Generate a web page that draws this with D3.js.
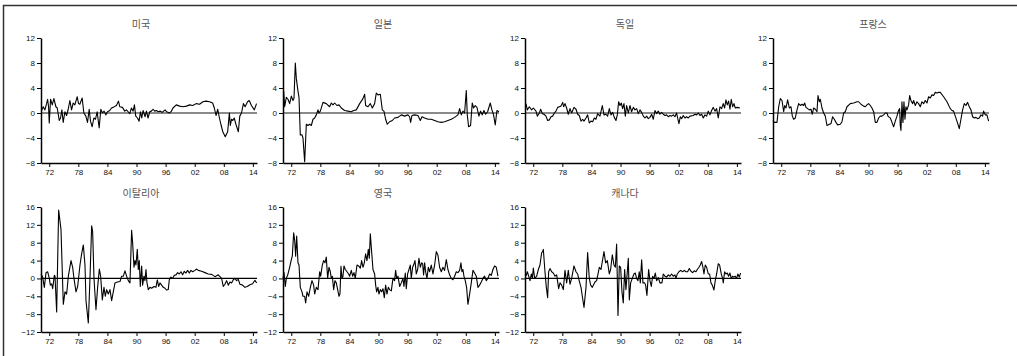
<!DOCTYPE html>
<html>
<head>
<meta charset="utf-8">
<script src="https://cdn.jsdelivr.net/npm/d3@7"></script>
<style>
  body { margin: 0; background: #fff; }
  svg text { font-family: "Liberation Sans", Arial, sans-serif; }
</style>
</head>
<body>
<script>
// Country titles, in panel order
const TITLES = ["미국", "일본", "독일", "프랑스", "이탈리아", "영국", "캐나다"];

// Each series: [year, value]
const US = [[1970.42,0.4],[1970.76,1.0],[1971.11,0.5],[1971.45,1.5],[1971.66,2.2],[1971.86,1.0],[1972.0,-1.6],[1972.27,2.2],[1972.62,1.3],[1972.96,2.3],[1973.37,1.0],[1973.65,0.8],[1974.06,-1.2],[1974.33,-0.8],[1974.61,0.5],[1974.88,-1.5],[1975.23,0.2],[1975.57,-0.4],[1975.91,0.6],[1976.26,2.0],[1976.6,0.5],[1976.94,1.6],[1977.28,1.3],[1977.77,2.6],[1978.04,1.5],[1978.31,1.4],[1978.79,2.4],[1979.14,0],[1979.55,-0.5],[1979.89,-1.5],[1980.24,0.6],[1980.51,-1.3],[1980.85,-2.2],[1981.2,-0.8],[1981.54,-1.0],[1981.88,0.2],[1982.3,-2.4],[1982.64,0.6],[1982.98,0],[1983.32,0.3],[1983.67,-0.3],[1984.01,0.2],[1984.49,0.4],[1984.83,0.8],[1985.18,0.9],[1985.86,1.2],[1986.28,1.9],[1986.55,1.0],[1987.1,0.9],[1987.58,0.3],[1987.92,0.5],[1988.27,0.2],[1988.61,-0.1],[1988.95,0.8],[1989.3,0.3],[1989.57,1.3],[1989.84,-0.5],[1990.19,-0.8],[1990.53,-1.3],[1990.81,0.2],[1991.08,-0.8],[1991.35,0.4],[1991.77,-0.6],[1992.04,0.3],[1992.38,-0.8],[1992.73,0.2],[1993.07,0.3],[1993.41,0.6],[1993.76,0.3],[1994.1,0.4],[1994.5,0.2],[1994.9,0.3],[1995.3,0.1],[1995.9,0.5],[1996.2,0.2],[1996.85,0.0],[1997.2,0.3],[1997.53,0.8],[1998.2,1.3],[1998.9,1.1],[1999.58,1.0],[2000.3,1.1],[2000.95,1.3],[2001.6,1.2],[2002.3,1.5],[2003.0,1.4],[2003.7,1.8],[2004.35,1.9],[2005.05,1.8],[2005.7,1.6],[2006.05,0.8],[2006.4,-0.4],[2006.75,0.6],[2007.1,-0.8],[2007.4,-1.8],[2007.8,-3.0],[2008.3,-3.8],[2008.8,-3.0],[2009.15,0.0],[2009.35,-2.0],[2009.6,-1.0],[2009.85,-1.2],[2010.15,-0.8],[2010.5,-1.8],[2011.0,-3.0],[2011.3,-0.5],[2011.65,0],[2012.05,1.5],[2012.4,1.0],[2012.9,1.8],[2013.25,2.0],[2013.7,1.2],[2014.3,0.5],[2014.75,1.5]];

const JAPAN = [[1970.44,3.5],[1970.64,1.0],[1970.99,2.5],[1971.33,2.2],[1971.67,1.5],[1972.02,2.7],[1972.36,2.0],[1972.57,2.4],[1972.84,8.0],[1973.05,5.5],[1973.39,3.5],[1973.6,2.5],[1973.87,-3.5],[1974.22,-3.5],[1974.42,-4.0],[1974.77,-7.8],[1975.11,-1.8],[1975.45,-2.0],[1975.8,-1.8],[1976.14,-2.0],[1976.49,-1.0],[1976.83,-0.8],[1977.17,-0.3],[1977.52,0.5],[1977.72,0.0],[1978.0,0.3],[1978.55,1.7],[1979.23,1.5],[1979.92,1.0],[1980.27,1.6],[1980.61,1.3],[1980.95,1.6],[1981.43,1.2],[1981.85,1.3],[1982.33,0.8],[1983.01,0.4],[1983.7,0.3],[1984.39,0.2],[1984.87,0.4],[1985.42,0.5],[1986.11,1.5],[1986.79,2.3],[1987.14,3.0],[1987.34,1.2],[1987.83,1.0],[1988.31,1.5],[1988.72,0.8],[1989.2,1.5],[1989.54,3.2],[1989.89,2.9],[1990.37,3.0],[1990.78,0.5],[1991.12,0.3],[1991.47,-1.0],[1991.81,-1.8],[1992.29,-1.4],[1992.84,-1.2],[1993.32,-0.8],[1994.01,-0.7],[1994.7,-0.3],[1995.39,-0.5],[1996.07,-0.3],[1996.42,-0.6],[1996.62,-1.5],[1996.9,-0.4],[1997.45,-0.3],[1998.13,-0.4],[1998.62,-1.2],[1998.96,-0.6],[1999.51,-0.8],[2000.2,-1.0],[2000.88,-1.0],[2001.57,-1.2],[2002.26,-1.4],[2002.95,-1.5],[2003.63,-1.4],[2004.32,-1.2],[2005.01,-1.0],[2005.7,-0.7],[2006.38,-0.3],[2006.73,0.7],[2007.07,-0.3],[2007.41,0.3],[2007.76,0.0],[2008.1,3.6],[2008.31,-0.3],[2008.58,-2.2],[2008.99,-2.0],[2009.33,1.6],[2009.61,0.8],[2009.95,1.2],[2010.3,0.9],[2010.71,-0.5],[2011.05,0.3],[2011.39,-0.3],[2011.74,0.4],[2012.08,-0.2],[2012.5,0.2],[2013.05,1.6],[2013.39,0.5],[2013.73,-0.3],[2014.08,-1.9],[2014.42,0.4],[2014.84,0.2]];

const GERMANY = [[1970.5,1.5],[1970.78,0.5],[1971.19,1.0],[1971.67,0.5],[1972.02,0.8],[1972.57,0.3],[1972.84,-0.5],[1973.26,0.0],[1973.53,0.6],[1973.87,-0.1],[1974.22,-0.2],[1974.63,-0.5],[1974.97,-1.2],[1975.32,-1.1],[1975.66,-0.6],[1976.0,-0.5],[1976.35,0.0],[1976.69,0.3],[1977.04,0.9],[1977.38,1.0],[1977.72,1.1],[1978.07,1.7],[1978.27,1.0],[1978.55,1.5],[1978.89,0.8],[1979.23,-0.2],[1979.58,0.7],[1979.92,0.0],[1980.4,0.9],[1980.82,0.6],[1981.16,-0.2],[1981.5,-0.4],[1981.85,-1.3],[1982.19,-1.0],[1982.47,-1.3],[1982.88,-0.8],[1983.22,-0.3],[1983.56,-1.6],[1983.91,-1.3],[1984.25,-1.4],[1984.6,-0.8],[1984.94,-1.0],[1985.28,-0.1],[1985.76,-0.5],[1986.25,1.2],[1986.59,-0.3],[1987.0,-0.2],[1987.34,-0.5],[1987.69,0.7],[1988.03,-0.3],[1988.38,0.1],[1988.72,-0.7],[1989.06,-1.2],[1989.34,-0.3],[1989.61,1.8],[1989.89,1.2],[1990.16,1.6],[1990.44,0.7],[1990.71,1.5],[1990.99,-0.5],[1991.26,1.2],[1991.61,0.0],[1991.95,1.2],[1992.29,0.2],[1992.64,0.9],[1992.98,0.5],[1993.32,0.7],[1993.67,-0.1],[1994.01,0.5],[1994.36,0.1],[1994.7,-0.5],[1995.04,-0.8],[1995.39,-0.5],[1995.73,-0.9],[1996.07,-0.7],[1996.42,-0.2],[1996.76,-1.0],[1997.1,0.4],[1997.45,-0.1],[1997.79,0.3],[1998.13,-0.2],[1998.48,0.1],[1998.82,-0.2],[1999.17,-0.4],[1999.51,-0.3],[1999.85,-0.6],[2000.2,-0.4],[2000.54,-0.5],[2000.88,-0.3],[2001.23,-0.6],[2001.57,0.0],[2001.78,-0.8],[2002.05,-1.7],[2002.33,-0.6],[2002.6,-0.9],[2002.95,-0.4],[2003.29,-0.8],[2003.63,-0.6],[2003.98,-0.8],[2004.32,-0.5],[2005.01,-0.4],[2005.35,-0.2],[2005.7,-0.3],[2006.04,0.0],[2006.38,-0.4],[2006.73,-0.2],[2007.07,-0.8],[2007.41,-0.3],[2007.76,-0.5],[2008.1,0.3],[2008.44,-0.3],[2008.79,0.4],[2009.13,0.9],[2009.48,0.3],[2009.82,0.7],[2010.16,-0.8],[2010.51,1.0],[2010.85,0.7],[2011.19,1.5],[2011.47,0.8],[2011.74,2.1],[2012.02,1.3],[2012.29,1.9],[2012.57,0.6],[2012.84,2.2],[2013.12,1.0],[2013.4,1.5],[2013.67,0.8],[2014.08,0.9],[2014.63,0.8]];

const FRANCE = [[1970.3,-1.2],[1970.57,-1.5],[1971.12,-1.5],[1971.47,1.0],[1971.81,2.3],[1972.16,2.0],[1972.5,0.2],[1972.71,1.2],[1972.98,0.8],[1973.32,2.1],[1973.67,0.8],[1974.01,1.0],[1974.29,-0.5],[1974.56,-1.0],[1974.9,-0.8],[1975.25,0.5],[1975.59,1.5],[1975.94,1.2],[1976.28,1.4],[1976.62,1.2],[1976.83,1.6],[1977.1,0.9],[1977.45,0.7],[1977.79,0.5],[1978.14,0.6],[1978.41,-0.2],[1978.68,0.8],[1979.03,0.6],[1979.37,0.2],[1979.58,2.8],[1979.85,1.8],[1980.06,2.2],[1980.4,0.8],[1980.75,0.0],[1981.09,-0.5],[1981.43,-2.0],[1981.92,-1.8],[1982.26,-1.7],[1982.6,-0.6],[1982.95,-1.0],[1983.29,-1.5],[1983.63,-1.9],[1984.18,-1.8],[1984.53,-1.4],[1984.87,0.0],[1985.21,0.2],[1985.56,1.0],[1986.24,1.5],[1986.93,1.6],[1987.62,1.8],[1987.96,1.8],[1988.44,1.4],[1988.99,1.1],[1989.34,1.0],[1989.68,1.3],[1990.02,1.5],[1990.37,1.2],[1990.71,0.8],[1991.06,0.2],[1991.4,-1.5],[1991.74,-1.5],[1992.09,-0.8],[1992.43,-0.5],[1992.77,-0.5],[1993.12,-0.3],[1993.46,0.0],[1993.81,0.0],[1994.01,-0.5],[1994.29,-0.7],[1994.49,-0.8],[1994.84,-1.5],[1995.18,-2.2],[1995.52,-1.3],[1995.87,-0.5],[1996.14,0.3],[1996.42,0.7],[1996.55,-2.0],[1996.69,-2.8],[1996.9,1.8],[1997.1,-1.5],[1997.31,1.8],[1997.52,-1.0],[1997.72,1.0],[1997.93,0.5],[1998.27,1.3],[1998.48,2.8],[1998.75,2.0],[1999.1,1.5],[1999.3,2.0],[1999.65,1.2],[1999.99,1.8],[2000.33,1.5],[2000.68,1.0],[2001.02,1.8],[2001.37,1.5],[2001.71,2.0],[2002.05,1.6],[2002.4,2.6],[2002.74,2.4],[2003.08,2.9],[2003.43,2.8],[2003.77,3.3],[2004.11,3.2],[2004.46,3.3],[2004.8,3.3],[2005.49,2.6],[2006.18,1.8],[2006.86,0.7],[2007.21,0.4],[2007.55,0.3],[2007.89,-0.5],[2008.24,-1.3],[2008.72,-2.5],[2009.06,-1.0],[2009.41,0.5],[2009.75,1.5],[2010.09,1.2],[2010.44,1.7],[2010.78,1.0],[2011.13,0.5],[2011.47,-0.6],[2011.81,-0.8],[2012.16,-0.7],[2012.5,-0.9],[2012.84,-0.8],[2013.19,-0.3],[2013.53,-0.5],[2013.74,0.3],[2014.08,-0.3],[2014.42,-0.3],[2014.77,-1.3]];

const ITALY = [[1970.3,1.0],[1970.64,0.3],[1970.99,-2.0],[1971.33,1.3],[1971.67,1.5],[1972.02,0.0],[1972.22,-1.5],[1972.5,-1.2],[1972.71,-2.3],[1973.05,0.7],[1973.19,0.5],[1973.53,-7.5],[1973.94,15.3],[1974.42,11.0],[1974.9,-5.8],[1975.25,-3.0],[1975.59,-3.5],[1975.94,0.5],[1976.49,4.0],[1976.83,2.5],[1977.1,0.0],[1977.52,-3.0],[1977.86,-1.8],[1978.34,3.0],[1978.68,5.5],[1979.03,7.5],[1979.37,3.0],[1979.58,-5.0],[1980.06,-10.0],[1980.4,0.0],[1980.75,11.8],[1980.95,10.5],[1981.23,0.0],[1981.64,-7.0],[1981.98,-2.0],[1982.33,2.1],[1982.6,0.5],[1982.95,-4.8],[1983.29,-2.0],[1983.56,-4.0],[1983.84,-2.5],[1984.18,-3.5],[1984.53,-2.5],[1984.87,-5.0],[1985.21,-3.0],[1985.56,-1.0],[1986.04,-0.8],[1986.59,-0.7],[1986.93,0.5],[1987.28,0.5],[1987.62,1.7],[1987.96,0.5],[1988.31,-0.5],[1988.65,-1.0],[1988.99,10.8],[1989.2,8.0],[1989.48,2.5],[1989.68,4.0],[1989.89,3.0],[1990.16,6.5],[1990.37,2.0],[1990.57,4.0],[1990.78,-1.8],[1991.06,2.8],[1991.26,-1.5],[1991.54,0.5],[1991.74,-0.5],[1991.95,2.0],[1992.16,-1.0],[1992.43,-2.5],[1992.77,-2.0],[1993.12,-2.2],[1993.6,-1.8],[1994.01,-2.0],[1994.29,-0.3],[1994.56,-1.8],[1994.84,-1.0],[1995.18,-1.5],[1995.52,-2.0],[1995.87,-2.2],[1996.21,-2.6],[1996.55,-2.5],[1996.76,-0.3],[1997.1,0.3],[1997.45,0.0],[1997.79,0.7],[1998.14,0.8],[1998.48,1.3],[1998.82,1.0],[1999.17,1.5],[1999.51,0.8],[1999.85,1.6],[2000.2,1.2],[2000.54,1.8],[2000.88,1.2],[2001.23,1.8],[2001.57,1.5],[2002.05,1.8],[2002.4,2.1],[2002.74,1.8],[2003.43,1.6],[2004.11,1.3],[2004.8,1.0],[2005.49,0.9],[2006.18,0.4],[2006.86,0.8],[2007.55,0.0],[2007.89,-1.8],[2008.24,-1.3],[2008.58,-0.5],[2008.93,-1.5],[2009.27,-0.8],[2009.61,-1.0],[2009.96,-0.3],[2010.3,0.0],[2010.64,-0.5],[2010.99,-0.2],[2011.33,-1.3],[2011.88,-1.5],[2012.36,-2.0],[2012.84,-1.8],[2013.39,-1.4],[2013.94,-1.2],[2014.42,-0.4],[2014.77,-1.0]];

const UK = [[1970.3,0.0],[1970.51,1.3],[1970.78,-1.8],[1970.99,0.0],[1971.33,1.0],[1971.67,2.5],[1972.02,4.2],[1972.22,5.0],[1972.5,10.2],[1972.71,8.5],[1972.91,5.0],[1973.12,9.5],[1973.39,3.5],[1973.6,3.0],[1973.87,-2.0],[1974.22,-3.0],[1974.42,-4.0],[1974.77,-4.0],[1974.97,-5.5],[1975.25,-3.0],[1975.59,-4.0],[1975.94,-2.0],[1976.28,-0.5],[1976.62,-1.5],[1976.83,-3.5],[1977.17,-2.0],[1977.52,-2.5],[1977.86,1.5],[1978.07,0.5],[1978.41,3.0],[1978.68,4.0],[1978.96,3.5],[1979.23,4.8],[1979.51,0.0],[1979.78,2.5],[1980.06,1.5],[1980.27,0.0],[1980.47,0.5],[1980.75,-2.5],[1981.02,-0.5],[1981.3,-1.0],[1981.57,-2.5],[1981.85,-4.0],[1982.05,-3.5],[1982.26,2.7],[1982.47,0.0],[1982.67,0.5],[1982.88,2.8],[1983.15,2.0],[1983.5,1.5],[1983.84,1.0],[1984.05,0.5],[1984.39,1.8],[1984.66,0.5],[1984.94,1.3],[1985.21,0.0],[1985.56,3.0],[1985.9,2.8],[1986.25,2.3],[1986.52,4.0],[1986.79,2.5],[1987.07,3.5],[1987.34,5.5],[1987.62,4.0],[1987.89,6.5],[1988.1,4.5],[1988.31,10.0],[1988.58,6.0],[1988.86,2.0],[1989.2,1.0],[1989.41,-1.5],[1989.61,-3.0],[1989.89,-2.0],[1990.09,-3.5],[1990.37,-2.5],[1990.64,-3.0],[1990.92,-2.3],[1991.19,-4.3],[1991.47,-1.5],[1991.74,-3.5],[1992.02,-2.0],[1992.29,-2.5],[1992.64,-2.8],[1992.98,0.0],[1993.32,-0.5],[1993.53,1.8],[1993.74,0.0],[1994.01,0.5],[1994.36,-1.8],[1994.7,-1.0],[1995.04,0.0],[1995.25,-1.8],[1995.52,1.2],[1995.73,-2.3],[1996.0,1.0],[1996.28,2.0],[1996.55,3.0],[1996.76,0.0],[1997.03,2.5],[1997.24,3.0],[1997.52,4.0],[1997.79,1.0],[1998.07,2.0],[1998.34,4.5],[1998.62,2.5],[1998.89,3.5],[1999.1,3.3],[1999.3,0.8],[1999.51,3.5],[1999.72,1.5],[1999.99,0.0],[2000.27,2.5],[2000.54,1.5],[2000.88,3.0],[2001.23,1.0],[2001.57,3.0],[2001.92,6.0],[2002.26,5.2],[2002.6,2.5],[2002.95,1.5],[2003.29,2.5],[2003.63,1.8],[2003.98,4.2],[2004.32,2.0],[2004.66,0.8],[2005.01,0.0],[2005.35,-0.3],[2005.7,0.5],[2006.04,1.5],[2006.38,1.3],[2006.73,1.8],[2007.0,3.5],[2007.21,1.5],[2007.41,2.0],[2007.62,0.5],[2007.89,-0.5],[2008.17,-2.0],[2008.44,-5.8],[2008.79,-3.5],[2009.13,-1.0],[2009.48,1.8],[2009.82,1.2],[2010.16,0.5],[2010.51,-2.0],[2010.85,-1.5],[2011.19,-0.8],[2011.54,0.0],[2011.88,0.5],[2012.22,-0.5],[2012.57,0.0],[2012.91,1.0],[2013.26,0.7],[2013.6,2.0],[2013.94,2.8],[2014.29,2.5],[2014.63,0.5]];

const CANADA = [[1970.51,0.5],[1970.78,1.5],[1971.06,0.5],[1971.33,-0.5],[1971.61,1.0],[1971.81,0.0],[1972.02,2.3],[1972.29,0.0],[1972.71,0.5],[1973.05,2.0],[1973.39,3.0],[1973.74,5.8],[1973.94,6.0],[1974.08,6.5],[1974.42,1.5],[1974.7,-2.0],[1974.97,-4.3],[1975.18,1.5],[1975.45,2.2],[1975.8,1.5],[1976.14,1.2],[1976.49,0.5],[1976.83,0.8],[1977.24,-2.3],[1977.52,-1.0],[1977.86,-1.5],[1978.2,-2.5],[1978.55,1.8],[1978.89,-1.0],[1979.23,1.8],[1979.58,-1.3],[1979.92,0.0],[1980.4,2.8],[1980.82,1.5],[1981.16,1.0],[1981.43,-0.3],[1981.85,-2.0],[1982.19,-4.5],[1982.47,-6.5],[1982.88,-2.0],[1983.22,5.8],[1983.56,0.0],[1983.84,-1.5],[1984.18,-2.0],[1984.73,-0.8],[1985.08,-0.5],[1985.63,2.5],[1985.97,2.0],[1986.59,6.0],[1986.93,3.5],[1987.28,4.0],[1987.69,1.0],[1987.96,2.0],[1988.31,5.3],[1988.65,3.0],[1988.93,2.5],[1989.2,7.7],[1989.48,-8.3],[1989.75,2.8],[1990.02,2.5],[1990.3,-3.0],[1990.57,-5.5],[1990.85,2.0],[1991.12,-2.5],[1991.61,4.5],[1991.81,-4.8],[1992.09,-1.0],[1992.43,0.0],[1992.77,1.0],[1993.05,1.2],[1993.32,0.0],[1993.6,-0.5],[1993.87,1.5],[1994.08,-1.0],[1994.36,4.2],[1994.63,-1.0],[1994.97,-1.0],[1995.18,-1.5],[1995.45,-3.8],[1995.8,2.0],[1996.07,-0.5],[1996.35,-1.8],[1996.62,0.5],[1996.9,0.0],[1997.17,1.2],[1997.45,-0.5],[1997.79,0.2],[1998.13,-1.0],[1998.55,-1.0],[1998.82,1.0],[1999.17,0.5],[1999.51,0.3],[1999.85,0.8],[2000.2,0.5],[2000.54,1.0],[2000.88,0.5],[2001.23,0.8],[2001.43,0.0],[2001.71,1.0],[2002.05,1.5],[2002.4,1.8],[2002.81,1.5],[2003.15,1.8],[2003.5,1.5],[2003.84,1.5],[2004.18,2.2],[2004.53,1.6],[2004.87,1.3],[2005.21,1.7],[2005.56,1.5],[2005.83,2.0],[2006.18,2.5],[2006.45,3.0],[2006.73,3.8],[2007.0,2.5],[2007.21,1.0],[2007.48,3.0],[2007.76,2.5],[2008.1,1.0],[2008.38,1.0],[2008.65,-1.0],[2008.93,-1.5],[2009.27,-2.6],[2009.54,-0.5],[2009.82,1.0],[2010.16,3.3],[2010.44,3.0],[2010.78,1.0],[2011.06,0.0],[2011.19,-1.0],[2011.47,1.5],[2011.74,1.0],[2012.02,1.2],[2012.29,0.5],[2012.57,1.2],[2012.84,0.0],[2013.12,0.5],[2013.4,0.3],[2013.67,0.5],[2013.94,0.0],[2014.22,1.0],[2014.49,0.3],[2014.77,1.2]];

const SERIES = [US, JAPAN, GERMANY, FRANCE, ITALY, UK, CANADA];

const X_DOMAIN = [1970.3, 2014.85];
const X_TICK_YEARS = [1972, 1978, 1984, 1990, 1996, 2002, 2008, 2014];
const X_TICK_LABELS = ["72", "78", "84", "90", "96", "02", "08", "14"];
const Y_TICKS_TOP = [-8, -4, 0, 4, 8, 12];
const Y_TICKS_BOTTOM = [-12, -8, -4, 0, 4, 8, 12, 16];

// Layout
const WIDTH = 1017;
const HEIGHT = 356;
const PLOT_WIDTH = 216;
const TOP_ROW = { top: 38, bottom: 163, domain: [-8, 12], ticks: Y_TICKS_TOP, zeroColor: "#8a8a8a", zeroWidth: 2 };
const BOTTOM_ROW = { top: 207, bottom: 332, domain: [-12, 16], ticks: Y_TICKS_BOTTOM, zeroColor: "#000", zeroWidth: 1.2 };
const PANEL_X = [41, 283, 525, 773, 41, 283, 525];

const svg = d3.select("body").append("svg")
    .attr("width", WIDTH)
    .attr("height", HEIGHT);

// Outer frame (left and top edges visible)
svg.append("path")
    .attr("d", `M3.5,${HEIGHT} V5.5 H${WIDTH}`)
    .attr("fill", "none")
    .attr("stroke", "#333")
    .attr("stroke-width", 1.5);

function drawPanel(idx) {
    const row = idx < 4 ? TOP_ROW : BOTTOM_ROW;
    const x0 = PANEL_X[idx];

    const xScale = d3.scaleLinear().domain(X_DOMAIN).range([x0, x0 + PLOT_WIDTH]);
    const yScale = d3.scaleLinear().domain(row.domain).range([row.bottom, row.top]);

    const g = svg.append("g");

    // Zero reference line
    g.append("line")
        .attr("x1", x0).attr("x2", x0 + PLOT_WIDTH)
        .attr("y1", yScale(0)).attr("y2", yScale(0))
        .attr("stroke", row.zeroColor)
        .attr("stroke-width", row.zeroWidth);

    // Series
    const line = d3.line()
        .x(d => xScale(d[0]))
        .y(d => yScale(d[1]));

    g.append("path")
        .datum(SERIES[idx])
        .attr("fill", "none")
        .attr("stroke", "#000")
        .attr("stroke-width", 1.1)
        .attr("stroke-linejoin", "round")
        .attr("d", line);

    // Axes
    const yAxis = g.append("g")
        .attr("transform", `translate(${x0},0)`)
        .call(d3.axisLeft(yScale).tickValues(row.ticks).tickSize(4).tickSizeOuter(0).tickPadding(2));

    const xAxis = g.append("g")
        .attr("transform", `translate(0,${row.bottom})`)
        .call(d3.axisBottom(xScale)
            .tickValues(X_TICK_YEARS)
            .tickFormat((_d, i) => X_TICK_LABELS[i])
            .tickSize(4).tickSizeOuter(0).tickPadding(2));

    for (const axis of [yAxis, xAxis]) {
        axis.select(".domain").attr("stroke", "#000").attr("stroke-width", 1.5);
        axis.selectAll(".tick line").attr("stroke", "#000").attr("stroke-width", 1);
        axis.selectAll(".tick text")
            .attr("fill", "#111")
            .style("font-size", "8px")
            .style("font-family", "'Liberation Sans', Arial, sans-serif");
    }

    // Title
    g.append("text")
        .attr("x", x0 + 100)
        .attr("y", row.top - 10)
        .attr("text-anchor", "middle")
        .attr("fill", "#555")
        .style("font-size", "10px")
        .style("font-family", "'Noto Sans CJK KR', sans-serif")
        .text(TITLES[idx]);
}

for (let i = 0; i < TITLES.length; i += 1) {
    drawPanel(i);
}
</script>
</body>
</html>
